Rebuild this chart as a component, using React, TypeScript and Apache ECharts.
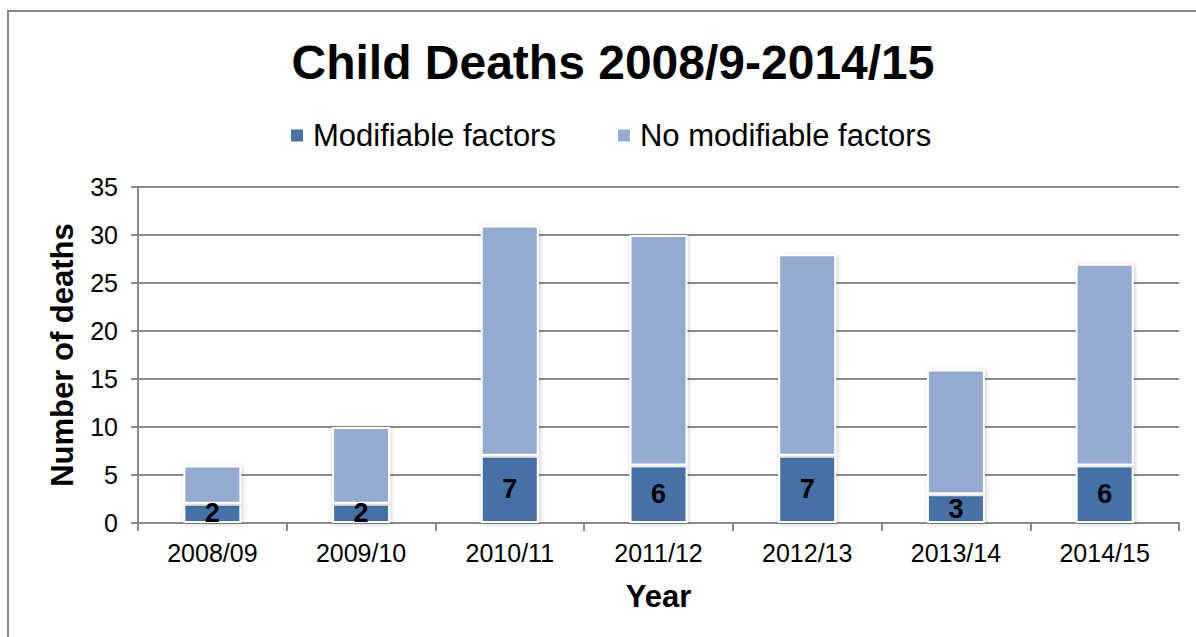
import React, { useEffect, useRef } from "react";
import * as echarts from "echarts";

// Child death reviews per year, split by whether modifiable factors were found
const years = ["2008/09", "2009/10", "2010/11", "2011/12", "2012/13", "2013/14", "2014/15"];
const modifiable = [2, 2, 7, 6, 7, 3, 6];
const noModifiable = [4, 8, 24, 24, 21, 13, 21];
const seriesNames = ["Modifiable factors", "No modifiable factors"];

const FONT = "Liberation Sans, Arial, Helvetica, sans-serif";
const DARK = "#4571a6";
const LIGHT = "#94aad0";
const GRID_GRAY = "#8a8a8a";

export default function App() {
  const ref = useRef<HTMLDivElement>(null);

  useEffect(() => {
    if (!ref.current) return;
    const chart = echarts.init(ref.current, undefined, { renderer: "svg" });

    const barStyle = (color: string) => ({
      color,
      borderColor: "#ffffff",
      borderWidth: 2,
      shadowBlur: 4,
      shadowColor: "rgba(0,0,0,0.22)",
      shadowOffsetX: 1,
      shadowOffsetY: 1,
    });

    chart.setOption({
      animation: false,
      backgroundColor: "#ffffff",
      textStyle: { fontFamily: FONT },
      title: {
        text: "Child Deaths 2008/9-2014/15",
        left: 608,
        textAlign: "center",
        top: 33,
        textStyle: { fontFamily: FONT, fontSize: 48, fontWeight: "bold", color: "#000" },
      },
      legend: {
        top: 115,
        left: 284,
        itemWidth: 14,
        itemHeight: 14,
        itemGap: 60,
        icon: "rect",
        textStyle: { fontFamily: FONT, fontSize: 31, color: "#000", padding: [0, 0, 0, 4] },
        data: seriesNames,
      },
      graphic: [
        {
          type: "polyline",
          shape: { points: [[8, 700], [8, 11], [1300, 11]] },
          style: { stroke: "#888888", lineWidth: 2, fill: "none" },
          silent: true,
        },
      ],
      grid: { left: 138, right: 17, top: 187, bottom: 114, containLabel: false },
      xAxis: {
        type: "category",
        data: years,
        name: "Year",
        nameLocation: "middle",
        nameGap: 58,
        nameTextStyle: { fontFamily: FONT, fontSize: 31, fontWeight: "bold", color: "#000" },
        axisLine: { lineStyle: { color: GRID_GRAY, width: 2 } },
        axisTick: { show: true, length: 8, alignWithLabel: false, lineStyle: { color: GRID_GRAY, width: 2 } },
        axisLabel: { fontFamily: FONT, fontSize: 25, color: "#000", margin: 17 },
      },
      yAxis: {
        type: "value",
        min: 0,
        max: 35,
        interval: 5,
        name: "Number of deaths",
        nameLocation: "middle",
        nameGap: 60,
        nameTextStyle: { fontFamily: FONT, fontSize: 31, fontWeight: "bold", color: "#000" },
        axisLine: { show: true, lineStyle: { color: GRID_GRAY, width: 2 } },
        axisTick: { show: true, length: 7, lineStyle: { color: GRID_GRAY, width: 2 } },
        axisLabel: { fontFamily: FONT, fontSize: 25, color: "#000", margin: 20 },
        splitLine: { show: true, lineStyle: { color: GRID_GRAY, width: 2 } },
      },
      series: [
        {
          name: seriesNames[0],
          type: "bar",
          stack: "deaths",
          data: modifiable,
          barWidth: "39%",
          itemStyle: barStyle(DARK),
          label: {
            show: true,
            position: "inside",
            fontFamily: FONT,
            fontSize: 27,
            fontWeight: "bold",
            color: "#000",
            textBorderWidth: 0,
          },
        },
        {
          name: seriesNames[1],
          type: "bar",
          stack: "deaths",
          data: noModifiable,
          barWidth: "39%",
          itemStyle: barStyle(LIGHT),
        },
      ],
    });

    return () => chart.dispose();
  }, []);

  return (
    <div
      ref={ref}
      style={{ position: "absolute", left: 0, top: 0, width: 1196, height: 637, background: "#fff" }}
    />
  );
}
